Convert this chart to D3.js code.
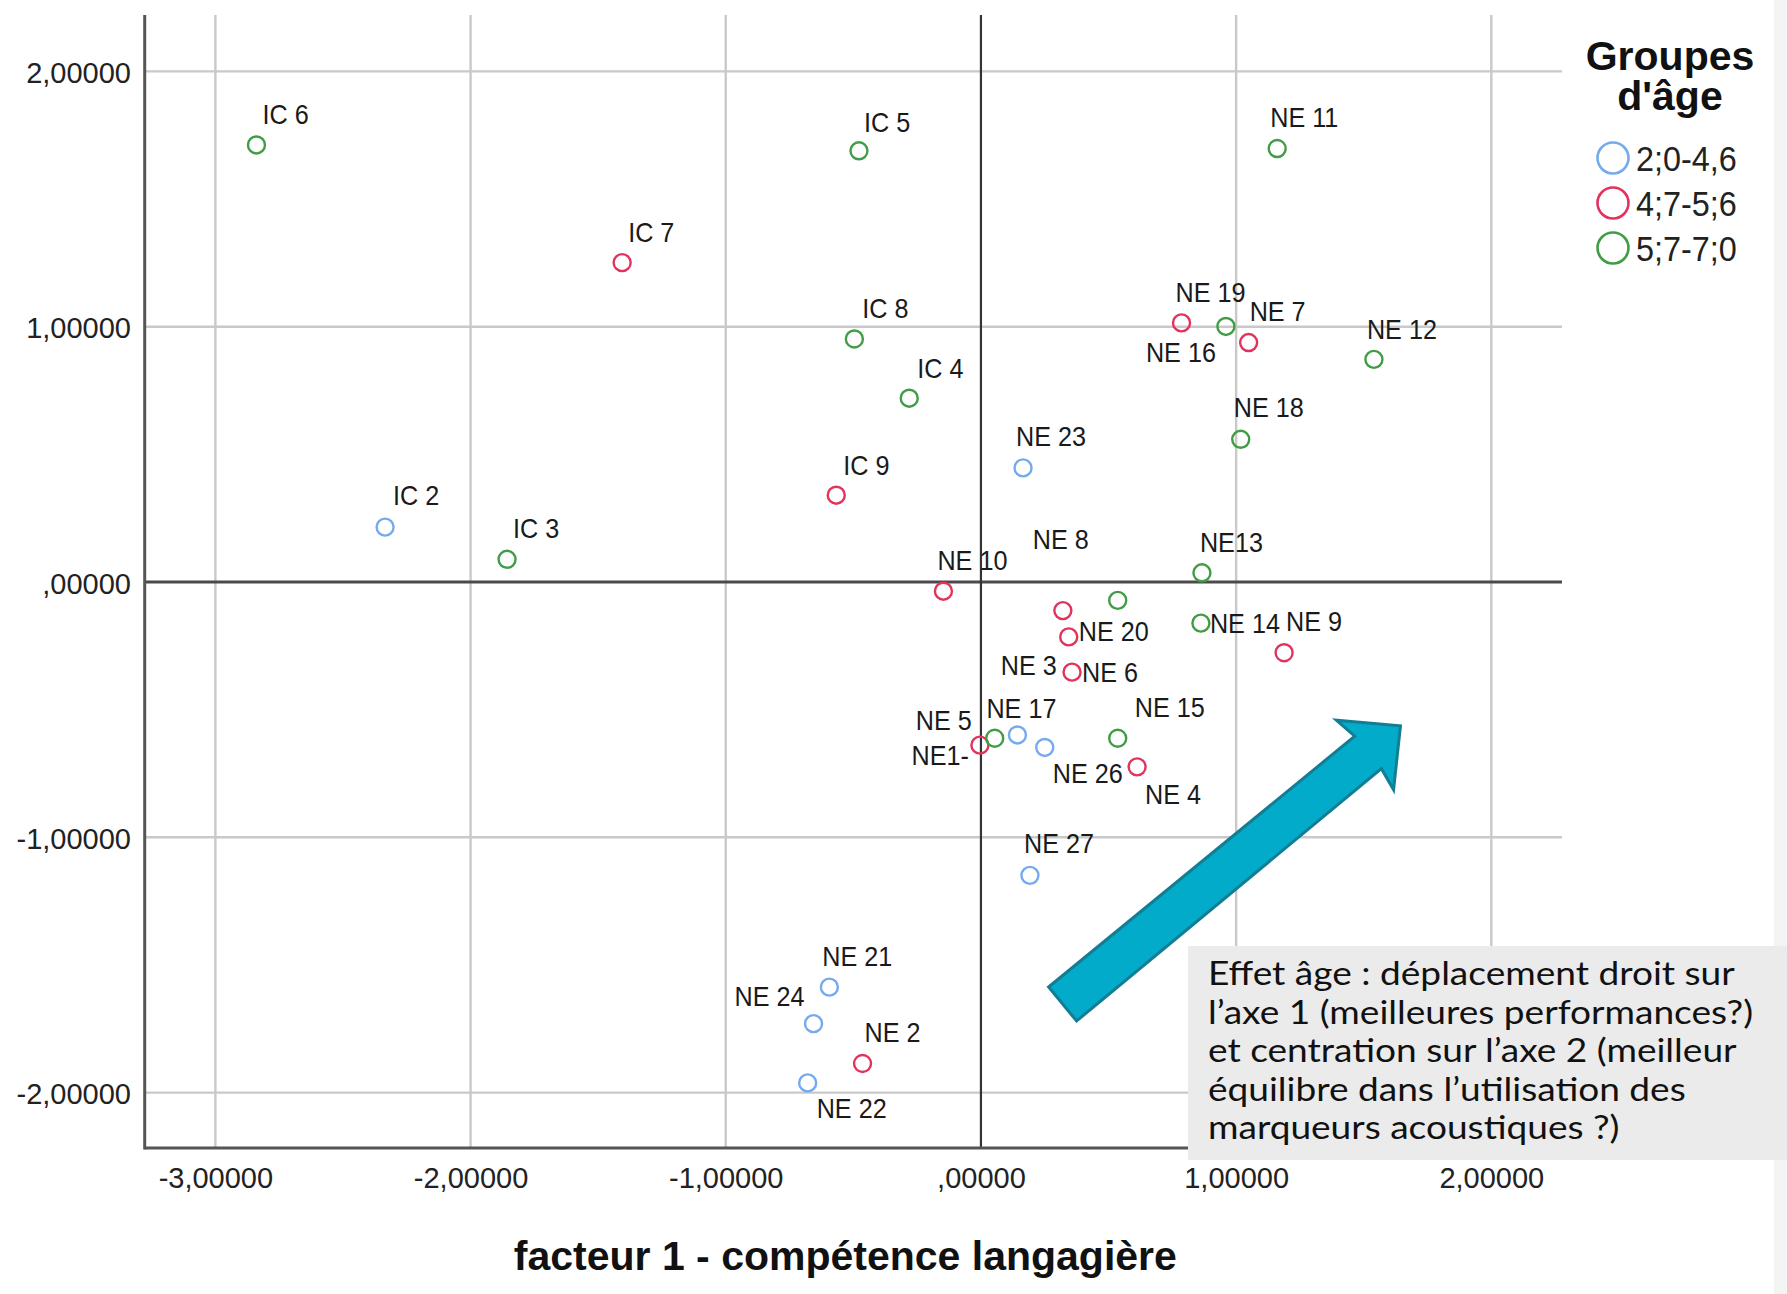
<!DOCTYPE html>
<html>
<head>
<meta charset="utf-8">
<script src="https://cdn.jsdelivr.net/npm/d3@7"></script>
<style>
  html, body { margin: 0; padding: 0; background: #fff; }
  svg { display: block; }
</style>
</head>
<body>
<svg id="chart" width="1787" height="1294"></svg>
<script>
// ---- Data: factor scores per child (axis 1 = language competence, axis 2) ----
const pointLabels = [
  "IC 6", "IC 5", "IC 7", "NE 11", "IC 8", "IC 4", "NE 19", "NE 16", "NE 7", "NE 12",
  "NE 18", "NE 23", "IC 9", "IC 2", "IC 3", "NE13", "NE 10", "NE 3", "NE 8", "NE 20",
  "NE 6", "NE 14", "NE 9", "NE1-", "NE 5", "NE 17", "NE 26", "NE 15", "NE 4", "NE 27",
  "NE 21", "NE 24", "NE 2", "NE 22"
];
const factor1 = [
  -2.839, -0.478, -1.406, 1.161, -0.496, -0.281, 0.786, 0.960, 1.049, 1.540,
   1.018,  0.165, -0.567, -2.335, -1.857, 0.866, -0.147, 0.321, 0.536, 0.344,
   0.357,  0.862,  1.188, -0.004, 0.054, 0.143, 0.250, 0.536, 0.612, 0.192,
  -0.594, -0.656, -0.464, -0.679
];
const factor2 = [
   1.712, 1.689, 1.251, 1.698, 0.952, 0.720, 1.015, 1.001, 0.938, 0.872,
   0.559, 0.447, 0.340, 0.215, 0.089, 0.036, -0.036, -0.112, -0.072, -0.215,
  -0.353, -0.161, -0.277, -0.639, -0.612, -0.599, -0.648, -0.612, -0.724, -1.149,
  -1.587, -1.730, -1.886, -1.962
];
const ageGroup = [
  "5;7-7;0", "5;7-7;0", "4;7-5;6", "5;7-7;0", "5;7-7;0", "5;7-7;0", "4;7-5;6", "5;7-7;0", "4;7-5;6", "5;7-7;0",
  "5;7-7;0", "2;0-4,6", "4;7-5;6", "2;0-4,6", "5;7-7;0", "5;7-7;0", "4;7-5;6", "4;7-5;6", "5;7-7;0", "4;7-5;6",
  "4;7-5;6", "5;7-7;0", "4;7-5;6", "4;7-5;6", "5;7-7;0", "2;0-4,6", "2;0-4,6", "5;7-7;0", "4;7-5;6", "2;0-4,6",
  "2;0-4,6", "2;0-4,6", "4;7-5;6", "2;0-4,6"
];
const groupNames = ["2;0-4,6", "4;7-5;6", "5;7-7;0"];
const groupColors = ["#74aaee", "#e2335d", "#419c46"];
const xTicks = [-3, -2, -1, 0, 1, 2];
const yTicks = [-2, -1, 0, 1, 2];
const xTitle = "facteur 1 - compétence langagière";
const legendTitle = ["Groupes", "d'âge"];
const noteLines = [
  "Effet âge : déplacement droit sur",
  "l’axe 1 (meilleures performances?)",
  "et centration sur l’axe 2 (meilleur",
  "équilibre dans l’utilisation des",
  "marqueurs acoustiques ?)"
];
// trend arrow, expressed in factor units (tail -> head)
const trendFrom = [0.320, -1.653];
const trendTo = [1.644, -0.563];

// ---- Label placement next to each marker: [anchor, dx, dy] in px ----
const labelPlace = {
  "IC 6": ["start", 6, -21], "IC 5": ["start", 5, -19], "IC 7": ["start", 6, -21],
  "NE 11": ["start", -7, -22], "IC 8": ["start", 8, -21], "IC 4": ["start", 8, -20],
  "NE 19": ["start", -6, -21], "NE 7": ["start", 1, -22], "NE 16": ["end", -10, 36],
  "NE 12": ["start", -7, -20], "NE 18": ["start", -7, -22], "NE 23": ["start", -7, -22],
  "IC 9": ["start", 7, -20], "IC 2": ["start", 8, -22], "IC 3": ["start", 6, -21],
  "NE13": ["start", -2, -21], "NE 10": ["start", -6, -21], "NE 8": ["start", -85, -51],
  "NE 3": ["end", -6, 64], "NE 20": ["start", 10, 4], "NE 6": ["start", 10, 10],
  "NE 14": ["start", 9, 10], "NE 9": ["start", 2, -22], "NE1-": ["end", -11, 20],
  "NE 5": ["end", -23, -8], "NE 17": ["start", -31, -17], "NE 26": ["start", 8, 36],
  "NE 15": ["start", 17, -21], "NE 4": ["start", 8, 37], "NE 27": ["start", -6, -22],
  "NE 21": ["start", -7, -21], "NE 24": ["end", -9, -18], "NE 2": ["start", 2, -21],
  "NE 22": ["start", 9, 35]
};

const points = pointLabels.map((label, i) => ({
  label, f1: factor1[i], f2: factor2[i], group: ageGroup[i]
}));

// ---- Layout ----
const svg = d3.select("#chart");
const plot = { left: 144.7, right: 1562, top: 15, bottom: 1148 };
const x = d3.scaleLinear().domain([-3.277, 2.277]).range([plot.left, plot.right]);
const y = d3.scaleLinear().domain([-2.217, 2.221]).range([plot.bottom, plot.top]);
const color = d3.scaleOrdinal().domain(groupNames).range(groupColors);
const sansFont = "'Liberation Sans', Arial, sans-serif";

const fmt = v => {
  let s = d3.format(".5f")(Math.abs(v)).replace(".", ",");
  if (Math.abs(v) < 1) s = s.replace(/^0/, "");
  return (v < 0 ? "-" : "") + s;
};

// light strip along the right page edge
svg.append("rect").attr("x", 1774).attr("y", 0).attr("width", 13).attr("height", 1294)
  .attr("fill", "#f4f4f4");

// gridlines
const grid = svg.append("g");
grid.selectAll("line.gx").data(xTicks.filter(d => d !== 0)).join("line")
  .attr("x1", d => x(d)).attr("x2", d => x(d))
  .attr("y1", plot.top).attr("y2", plot.bottom)
  .attr("stroke", "#c9c9c9").attr("stroke-width", 2.4);
grid.selectAll("line.gy").data(yTicks.filter(d => d !== 0)).join("line")
  .attr("x1", plot.left).attr("x2", plot.right)
  .attr("y1", d => y(d)).attr("y2", d => y(d))
  .attr("stroke", "#c9c9c9").attr("stroke-width", 2.4);

// reference lines at zero
svg.append("line").attr("x1", plot.left).attr("x2", plot.right)
  .attr("y1", y(0)).attr("y2", y(0))
  .attr("stroke", "#4a4a4a").attr("stroke-width", 2.8);
svg.append("line").attr("x1", x(0)).attr("x2", x(0))
  .attr("y1", plot.top).attr("y2", plot.bottom)
  .attr("stroke", "#333").attr("stroke-width", 2.2);

// axis frame (left + bottom)
svg.append("line").attr("x1", plot.left).attr("x2", plot.left)
  .attr("y1", plot.top).attr("y2", plot.bottom + 1.5)
  .attr("stroke", "#555").attr("stroke-width", 3);
svg.append("line").attr("x1", plot.left).attr("x2", plot.right)
  .attr("y1", plot.bottom).attr("y2", plot.bottom)
  .attr("stroke", "#555").attr("stroke-width", 3);

// tick labels through d3 axes
const yAxis = svg.append("g").attr("transform", "translate(131,0)")
  .call(d3.axisLeft(y).tickValues(yTicks).tickFormat(fmt).tickSize(0).tickPadding(0));
yAxis.select(".domain").remove();
yAxis.selectAll("text").attr("dy", "0.38em")
  .attr("font-family", sansFont).attr("font-size", 29).attr("fill", "#222");

const xAxis = svg.append("g").attr("transform", "translate(0,1167)")
  .call(d3.axisBottom(x).tickValues(xTicks).tickFormat(fmt).tickSize(0).tickPadding(0));
xAxis.select(".domain").remove();
xAxis.selectAll("text").attr("y", 0).attr("dy", "0.71em")
  .attr("font-family", sansFont).attr("font-size", 29).attr("fill", "#222");

// axis title
svg.append("text").attr("x", (x(-3.277) + x(2.277)) / 2 - 8).attr("y", 1270)
  .attr("text-anchor", "middle").attr("font-family", sansFont)
  .attr("font-weight", "bold").attr("font-size", 41).attr("fill", "#111")
  .text(xTitle);

// markers
svg.append("g").selectAll("circle").data(points).join("circle")
  .attr("cx", d => x(d.f1)).attr("cy", d => y(d.f2)).attr("r", 8.5)
  .attr("fill", "none").attr("stroke", d => color(d.group)).attr("stroke-width", 2.4);

// marker labels (condensed sans)
svg.append("g").selectAll("text").data(points).join("text")
  .attr("transform", d => {
    const p = labelPlace[d.label] || ["start", 6, -21];
    return `translate(${x(d.f1) + p[1]},${y(d.f2) + p[2]}) scale(0.9,1)`;
  })
  .attr("text-anchor", d => (labelPlace[d.label] || ["start"])[0])
  .attr("font-family", sansFont).attr("font-size", 28).attr("fill", "#1a1a1a")
  .text(d => d.label);

// legend
const legend = svg.append("g");
legend.selectAll("text.title").data(legendTitle).join("text")
  .attr("x", 1670).attr("y", (d, i) => 70 + i * 40)
  .attr("text-anchor", "middle").attr("font-family", sansFont)
  .attr("font-weight", "bold").attr("font-size", 41).attr("fill", "#111")
  .text(d => d);
const items = legend.selectAll("g.item").data(groupNames).join("g")
  .attr("transform", (d, i) => `translate(1613,${158 + i * 45})`);
items.append("circle").attr("r", 15.5).attr("fill", "none")
  .attr("stroke", d => color(d)).attr("stroke-width", 2.6);
items.append("text").attr("transform", "translate(23,12.5) scale(0.9,1)")
  .attr("font-family", sansFont).attr("font-size", 36).attr("fill", "#222")
  .text(d => d);

// trend arrow
const p0 = [x(trendFrom[0]), y(trendFrom[1])];
const p1 = [x(trendTo[0]), y(trendTo[1])];
const len = Math.hypot(p1[0] - p0[0], p1[1] - p0[1]);
const u = [(p1[0] - p0[0]) / len, (p1[1] - p0[1]) / len];
const n = [-u[1], u[0]];
const at = (base, back, side) => [base[0] - u[0] * back + n[0] * side, base[1] - u[1] * back + n[1] * side];
const arrowPts = [
  at(p0, 0, -22), at(p1, 42, -21), at(p1, 46, -45), p1,
  at(p1, 46, 45), at(p1, 42, 21), at(p0, 0, 22)
];
svg.append("path").attr("d", d3.line()(arrowPts) + "Z")
  .attr("fill", "#02abc9").attr("stroke", "#137d94").attr("stroke-width", 3)
  .attr("stroke-linejoin", "miter");

// note box
svg.append("rect").attr("x", 1188).attr("y", 946).attr("width", 599).attr("height", 214)
  .attr("fill", "#ebebeb");
const note = svg.append("g");
const noteText = note.selectAll("text").data(noteLines).join("text")
  .attr("font-family", "Lato, 'Open Sans', sans-serif").attr("font-size", 33)
  .attr("fill", "#111").text(d => d);
const w0 = noteText.node().getComputedTextLength();
const k = w0 > 0 ? 527 / w0 : 1;
noteText.attr("transform", (d, i) => `translate(1208,${985 + i * 38.5}) scale(${k},1)`);
</script>
</body>
</html>
